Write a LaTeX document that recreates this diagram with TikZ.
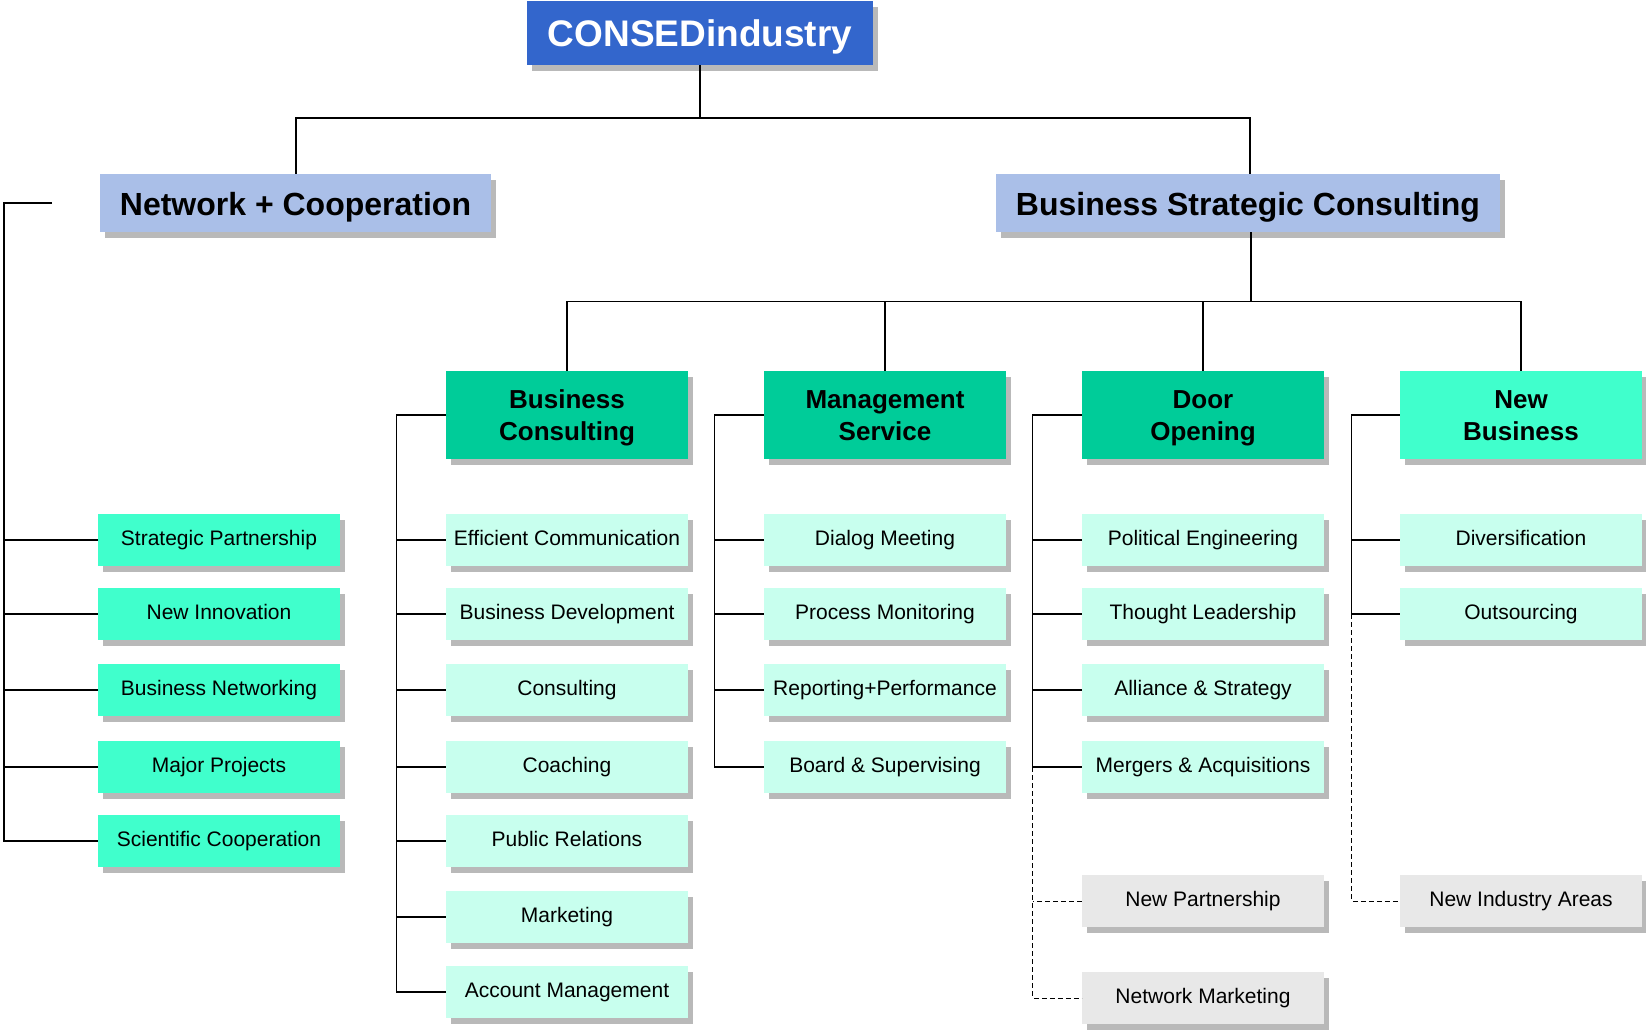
\documentclass[tikz,border=0pt]{standalone}
\usepackage{fontspec}
\setmainfont{Liberation Sans}
\usetikzlibrary{shadows,calc}
\definecolor{topblue}{HTML}{3366CC}
\definecolor{lvlone}{HTML}{AABFE8}
\definecolor{darkteal}{HTML}{00CC99}
\definecolor{aqua}{HTML}{40FFCC}
\definecolor{mint}{HTML}{C8FFEE}
\definecolor{lgray}{HTML}{E8E8E8}
\definecolor{shadowgray}{HTML}{B9B9B9}
\tikzset{
  box/.style={rectangle, inner sep=0pt, align=center,
    drop shadow={shadow xshift=5pt, shadow yshift=-6pt, fill=shadowgray, opacity=1}},
  itembox/.style={box, minimum width=242pt, minimum height=52pt,
    text height=16pt, text depth=5pt,
    font=\fontsize{21}{25}\selectfont},
  headbox/.style={box, minimum width=242pt, minimum height=88pt,
    text height=56pt, text depth=6pt,
    font=\fontsize{26}{32}\selectfont\bfseries},
  lvlbox/.style={box, fill=lvlone, minimum height=58pt,
    text height=31pt, text depth=7pt,
    font=\fontsize{32}{38}\selectfont\bfseries},
  treeline/.style={line width=2pt},
  brline/.style={line width=1.3pt},
  dashline/.style={line width=1pt, dash pattern=on 5pt off 3pt},
}
\begin{document}
\begin{tikzpicture}[x=1pt,y=-1pt]
\useasboundingbox (0,0) rectangle (1646,1029);
% top
\node[box, fill=topblue, text=white, minimum width=346pt, minimum height=64pt,
  text height=34pt, text depth=6.6pt,
  font=\fontsize{37}{44}\selectfont\bfseries] (top) at (700,33) {CONSEDindustry};
\node[lvlbox, minimum width=391pt] (nc) at (295.5,203) {Network + Cooperation};
\node[lvlbox, minimum width=504pt] (bsc) at (1248,203) {Business Strategic Consulting};
\draw[treeline] (top.south) -- ++(0,53) -| (nc.north);
\draw[treeline] (top.south) -- ++(0,53) -| ($(bsc.north)+(2,0)$);

% column headers
\node[headbox, fill=darkteal] (h1) at (567,415) {Business\\Consulting};
\node[headbox, fill=darkteal] (h2) at (885,415) {Management\\Service};
\node[headbox, fill=darkteal] (h3) at (1203,415) {Door\\Opening};
\node[headbox, fill=aqua] (h4) at (1521,415) {New\\Business};
\coordinate (bscb) at ($(bsc.south)+(3,0)$);
\foreach \h in {h1,h2,h3,h4}
  \draw[brline] (bscb) -- ++(0,69) -| (\h.north);

% left column
\node[itembox, fill=aqua] (l1) at (219,540) {Strategic Partnership};
\node[itembox, fill=aqua] (l2) at (219,614) {New Innovation};
\node[itembox, fill=aqua] (l3) at (219,690) {Business Networking};
\node[itembox, fill=aqua] (l4) at (219,767) {Major Projects};
\node[itembox, fill=aqua] (l5) at (219,841) {Scientific Cooperation};
\coordinate (lc) at (52,203);
\draw[brline] (lc) -- ++(-48,0) |- (l5.west);
\foreach \n in {l1,l2,l3,l4}
  \draw[brline] (\n.west) -- ++(-94,0);

% column 1
\node[itembox, fill=mint] (a1) at (567,540) {Efficient Communication};
\node[itembox, fill=mint] (a2) at (567,614) {Business Development};
\node[itembox, fill=mint] (a3) at (567,690) {Consulting};
\node[itembox, fill=mint] (a4) at (567,767) {Coaching};
\node[itembox, fill=mint] (a5) at (567,841) {Public Relations};
\node[itembox, fill=mint] (a6) at (567,917) {Marketing};
\node[itembox, fill=mint] (a7) at (567,992) {Account Management};
\draw[brline] (h1.west) -- ++(-49,0) |- (a7.west);
\foreach \n in {a1,a2,a3,a4,a5,a6}
  \draw[brline] (\n.west) -- ++(-49,0);

% column 2
\node[itembox, fill=mint] (b1) at (885,540) {Dialog Meeting};
\node[itembox, fill=mint] (b2) at (885,614) {Process Monitoring};
\node[itembox, fill=mint] (b3) at (885,690) {Reporting+Performance};
\node[itembox, fill=mint] (b4) at (885,767) {Board \& Supervising};
\draw[brline] (h2.west) -- ++(-49,0) |- (b4.west);
\foreach \n in {b1,b2,b3}
  \draw[brline] (\n.west) -- ++(-49,0);

% column 3
\node[itembox, fill=mint] (c1) at (1203,540) {Political Engineering};
\node[itembox, fill=mint] (c2) at (1203,614) {Thought Leadership};
\node[itembox, fill=mint] (c3) at (1203,690) {Alliance \& Strategy};
\node[itembox, fill=mint] (c4) at (1203,767) {Mergers \& Acquisitions};
\node[itembox, fill=lgray] (c5) at (1203,901) {New Partnership};
\node[itembox, fill=lgray] (c6) at (1203,998) {Network Marketing};
\draw[brline] (h3.west) -- ++(-49,0) |- (c4.west);
\foreach \n in {c1,c2,c3}
  \draw[brline] (\n.west) -- ++(-49,0);
\coordinate (c4b) at ($(c4.west)+(-49,0)$);
\draw[dashline] (c4b) |- (c6.west);
\draw[dashline] (c5.west) -- ++(-49,0);

% column 4
\node[itembox, fill=mint] (d1) at (1521,540) {Diversification};
\node[itembox, fill=mint] (d2) at (1521,614) {Outsourcing};
\node[itembox, fill=lgray] (d3) at (1521,901) {New Industry Areas};
\draw[brline] (h4.west) -- ++(-48,0) |- (d2.west);
\draw[brline] (d1.west) -- ++(-48,0);
\coordinate (d2b) at ($(d2.west)+(-48,0)$);
\draw[dashline] (d2b) |- (d3.west);
\end{tikzpicture}
\end{document}
